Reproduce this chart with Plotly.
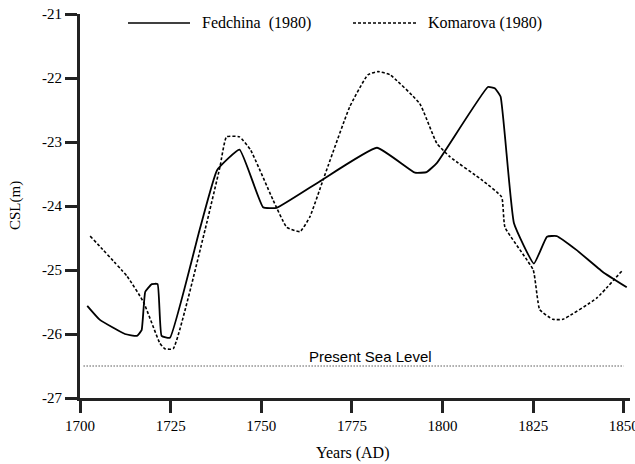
import plotly.graph_objects as go

fed_years = [1702, 1705.5, 1712.4, 1715.7, 1717, 1718, 1719.8, 1721.4, 1722.5, 1724.8,
             1733, 1737.8, 1744, 1750.5, 1754.2, 1766, 1781.9, 1792.4, 1795.6, 1798.4,
             1812.5, 1814.4, 1816, 1819.7, 1825.2, 1828.8, 1831.5, 1837, 1844.2, 1850.8]
fed_vals = [-25.56, -25.78, -26.0, -26.03, -25.94, -25.34, -25.22, -25.22, -26.03, -26.06,
            -24.37, -23.44, -23.12, -24.02, -24.03, -23.62, -23.09, -23.48, -23.47, -23.33,
            -22.14, -22.16, -22.29, -24.27, -24.9, -24.48, -24.47, -24.69, -25.03, -25.27]

kom_years = [1702.8, 1713, 1717.5, 1722, 1723.4, 1725.7, 1734.5, 1738.6, 1740.4, 1744,
             1747, 1753.2, 1757, 1760.7, 1763.4, 1767, 1774.4, 1779.4, 1782.2, 1785.5,
             1793.7, 1798.4, 1802, 1811, 1816.3, 1817.2, 1825, 1826.8, 1830.4, 1833.2,
             1842.5, 1849.7]
kom_vals = [-24.47, -25.1, -25.5, -26.14, -26.23, -26.23, -24.37, -23.39, -22.92, -22.92,
            -23.12, -23.9, -24.33, -24.4, -24.17, -23.6, -22.45, -21.95, -21.9, -21.95,
            -22.4, -23.02, -23.23, -23.6, -23.86, -24.33, -25.0, -25.62, -25.77, -25.77,
            -25.44, -25.0]

sea_years = [1701, 1850]
sea_vals = [-26.5, -26.5]

x_ticks = [1700, 1725, 1750, 1775, 1800, 1825, 1850]
y_ticks = [-27, -26, -25, -24, -23, -22, -21]
y_ticktext = ["-27", "-26", "-25", "-24", "-23", "-22", "-21"]

serif = "Liberation Serif"
L, R, T, B = 80, 5, 14, 66
W, H = 635, 464
pw, ph = W - L - R, H - T - B

def px(x):
    return (x - L) / pw

def py(y):
    return (H - B - y) / ph

fig = go.Figure()
fig.add_trace(go.Scatter(x=sea_years, y=sea_vals, mode="lines",
                         line=dict(color="black", width=1, dash="1px,2px"),
                         showlegend=False, hoverinfo="skip"))
fig.add_trace(go.Scatter(x=kom_years, y=kom_vals, mode="lines", name="Komarova (1980)",
                         line=dict(color="black", width=1.6, dash="3px,2px",
                                   shape="spline", smoothing=0.4),
                         showlegend=False))
fig.add_trace(go.Scatter(x=fed_years, y=fed_vals, mode="lines", name="Fedchina  (1980)",
                         line=dict(color="black", width=1.8, shape="spline", smoothing=0.35),
                         showlegend=False))

# manual legend
fig.add_shape(type="line", xref="paper", yref="paper", x0=px(128), x1=px(190),
              y0=py(23), y1=py(23), line=dict(color="black", width=1.6))
fig.add_annotation(xref="paper", yref="paper", x=px(200), y=py(23),
                   text="Fedchina  (1980)", showarrow=False, xanchor="left", yanchor="middle",
                   font=dict(family=serif, size=16, color="black"))
fig.add_shape(type="line", xref="paper", yref="paper", x0=px(353), x1=px(416),
              y0=py(23), y1=py(23), line=dict(color="black", width=1.4, dash="3px,2px"))
fig.add_annotation(xref="paper", yref="paper", x=px(426), y=py(23),
                   text="Komarova (1980)", showarrow=False, xanchor="left", yanchor="middle",
                   font=dict(family=serif, size=16, color="black"))

fig.add_annotation(x=1780, y=-26.5, text="Present Sea Level", showarrow=False,
                   xanchor="center", yanchor="bottom", yshift=-1,
                   font=dict(family="Liberation Sans", size=15, color="black"))

# axis titles
fig.add_annotation(xref="paper", yref="paper", x=px(352), y=py(453),
                   text="Years (AD)", showarrow=False, xanchor="center", yanchor="middle",
                   font=dict(family=serif, size=16, color="black"))
fig.add_annotation(xref="paper", yref="paper", x=px(15), y=py(206),
                   text="CSL(m)", showarrow=False, xanchor="center", yanchor="middle",
                   textangle=-90, font=dict(family=serif, size=15, color="black"))

fig.update_layout(
    width=W, height=H,
    margin=dict(l=L, r=R, t=T, b=B),
    paper_bgcolor="white", plot_bgcolor="white",
    xaxis=dict(range=[1700, 1851.7], tickvals=x_ticks, ticks="outside", ticklen=12,
               tickwidth=3, tickcolor="#222", showline=True, linewidth=3, linecolor="#222",
               showgrid=False, zeroline=False, automargin=False,
               ticklabeloverflow="allow",
               tickfont=dict(family=serif, size=15, color="black")),
    yaxis=dict(range=[-27, -21], tickvals=y_ticks, ticktext=y_ticktext,
               ticks="outside", ticklen=12,
               tickwidth=3, tickcolor="#222", showline=True, linewidth=3, linecolor="#222",
               showgrid=False, zeroline=False, automargin=False,
               tickfont=dict(family=serif, size=15, color="black")),
)

fig.write_html("out.html", config={"displayModeBar": False},
               post_script="document.body.style.margin='0';document.body.style.overflow='hidden';")
